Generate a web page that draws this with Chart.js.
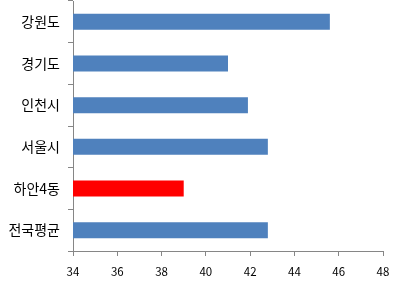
<!DOCTYPE html>
<html>
<head>
<meta charset="utf-8">
<script src="https://cdn.jsdelivr.net/npm/chart.js@4.4.0/dist/chart.umd.min.js"></script>
<style>
  body { margin: 0; background: #fff; }
  canvas { display: block; }
</style>
</head>
<body>
<canvas id="bar" width="399" height="286"></canvas>
<script>
var regions = ['강원도', '경기도', '인천시', '서울시', '하안4동', '전국평균'];
var values = [45.6, 41.0, 41.9, 42.8, 39.0, 42.8];
var barColors = ['#4F81BD', '#4F81BD', '#4F81BD', '#4F81BD', '#FF0000', '#4F81BD'];
var axisMin = 34, axisMax = 48, axisStep = 2;

var axisGray = '#868686';
Chart.defaults.font.family = '"Noto Sans CJK KR", "Noto Sans", sans-serif';
Chart.defaults.color = '#000';

var ctx = document.getElementById('bar').getContext('2d');
var myChart = new Chart(ctx, {
    type: 'bar',
    data: {
        labels: regions,
        datasets: [{
            data: values,
            backgroundColor: barColors,
            borderWidth: 0,
            categoryPercentage: 1,
            barPercentage: 0.385
        }]
    },
    options: {
        indexAxis: 'y',
        responsive: false,
        animation: false,
        layout: { padding: { top: 1, right: 16, left: 0, bottom: 0 } },
        plugins: { legend: { display: false }, tooltip: { enabled: false } },
        scales: {
            x: {
                min: axisMin,
                max: axisMax,
                ticks: { stepSize: axisStep, font: { size: 11.5 }, padding: 9 },
                grid: { drawOnChartArea: false, tickLength: 5, color: axisGray },
                border: { color: axisGray },
                afterFit: function (s) { s.height = 35; }
            },
            y: {
                ticks: { font: { size: 14 }, padding: 8 },
                grid: { offset: true, drawOnChartArea: false, tickLength: 5, color: axisGray },
                border: { color: axisGray },
                afterFit: function (s) {
                    s.width = 73;
                    s.paddingTop = 0;
                    s.paddingBottom = 0;
                }
            }
        }
    }
});
</script>
</body>
</html>
